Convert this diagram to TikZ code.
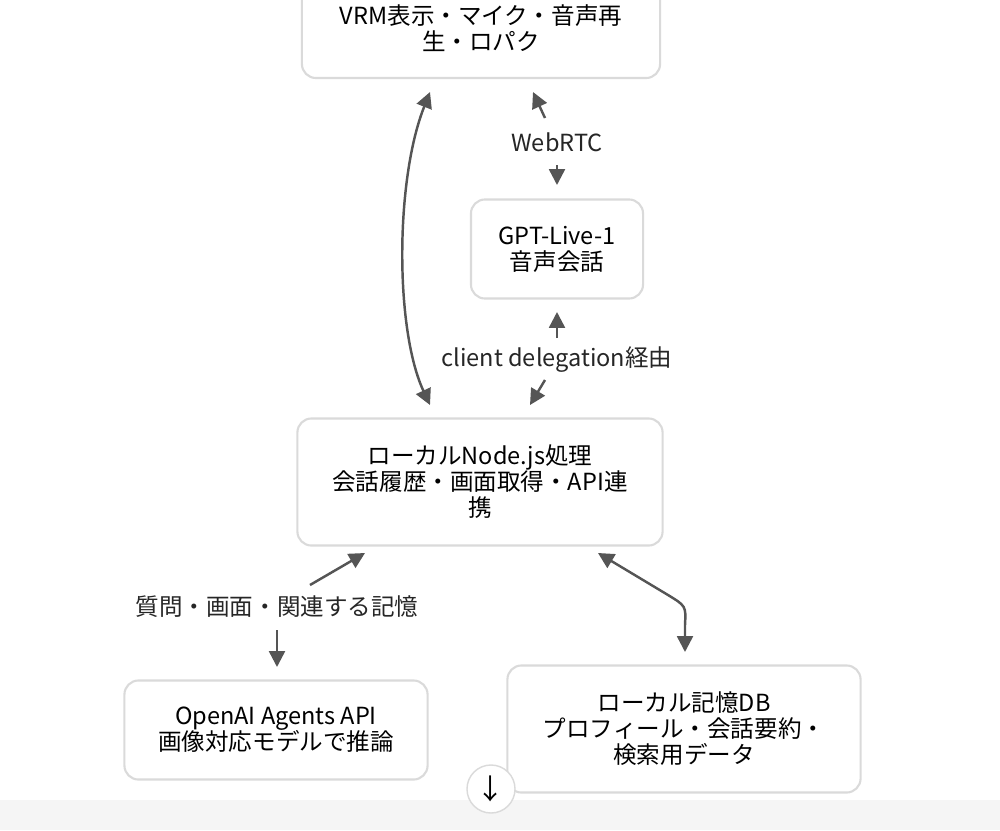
\documentclass[tikz,border=0pt]{standalone}
\usepackage{fontspec}
\setmainfont{Noto Sans CJK JP}
\usetikzlibrary{arrows.meta}
\definecolor{boxline}{HTML}{DADADA}
\definecolor{arrowgray}{HTML}{555555}
\tikzset{
    box/.style={draw=boxline, fill=white, rounded corners=4pt, line width=0.6pt, align=center, inner sep=0pt}, % ボックス
    link/.style={draw=arrowgray, line width=0.7pt, -{Triangle[length=4.5pt,width=4.5pt]}}, % 矢印
    lbl/.style={fill=white, inner sep=1pt, text=black!85}
}
\begin{document}
\begin{tikzpicture}[x=0.01cm, y=-0.01cm, font=\fontsize{6.7pt}{7.4pt}\selectfont]
            \useasboundingbox (0,0) rectangle (1000,830);
            \fill[black!4] (0,800) rectangle (1000,830);

            \node[box, minimum width=3.58cm, minimum height=1.0cm] (vrm) at (481,28) {VRM表示・マイク・音声再\\生・ロパク};
            \node[box, minimum width=1.72cm, minimum height=0.99cm] (gpt) at (557,249) {GPT-Live-1\\音声会話};
            \node[box, minimum width=3.65cm, minimum height=1.27cm] (local) at (480,482) {ローカルNode.js処理\\会話履歴・画面取得・API連\\携};
            \node[box, minimum width=3.03cm, minimum height=0.99cm] (agents) at (276,730) {OpenAI Agents API\\画像対応モデルで推論};
            \node[box, minimum width=3.53cm, minimum height=1.27cm] (db) at (684,729) {ローカル記憶DB\\プロフィール・会話要約・\\検索用データ};

            % 接続
            \draw[link, {Triangle[length=4.5pt,width=4.5pt]}-{Triangle[length=4.5pt,width=4.5pt]}] (430,92) .. controls (395,180) and (395,330) .. (430,405);

            \node[lbl] (webrtc) at (557,142) {WebRTC};
            \draw[link] (545,118) -- (533,92);
            \draw[link] (557,165) -- (557,185);

            \node[lbl] (deleg) at (557,360) {client delegation経由};
            \draw[link] (557,338) -- (557,312);
            \draw[link] (545,380) -- (530,405);

            \node[lbl] (query) at (277,607) {質問・画面・関連する記憶};
            \draw[link] (310,585) -- (365,553);
            \draw[link] (277,630) -- (277,667);

            \draw[link, {Triangle[length=4.5pt,width=4.5pt]}-{Triangle[length=4.5pt,width=4.5pt]}] (598,553) -- (668,595) .. controls (686,606) .. (685,625) -- (685,652);

            \node[circle, draw=boxline, fill=white, minimum size=0.48cm, inner sep=0pt, font=\fontsize{8pt}{9pt}\selectfont] (down) at (491,789) {↓};
        \end{tikzpicture}
\end{document}
